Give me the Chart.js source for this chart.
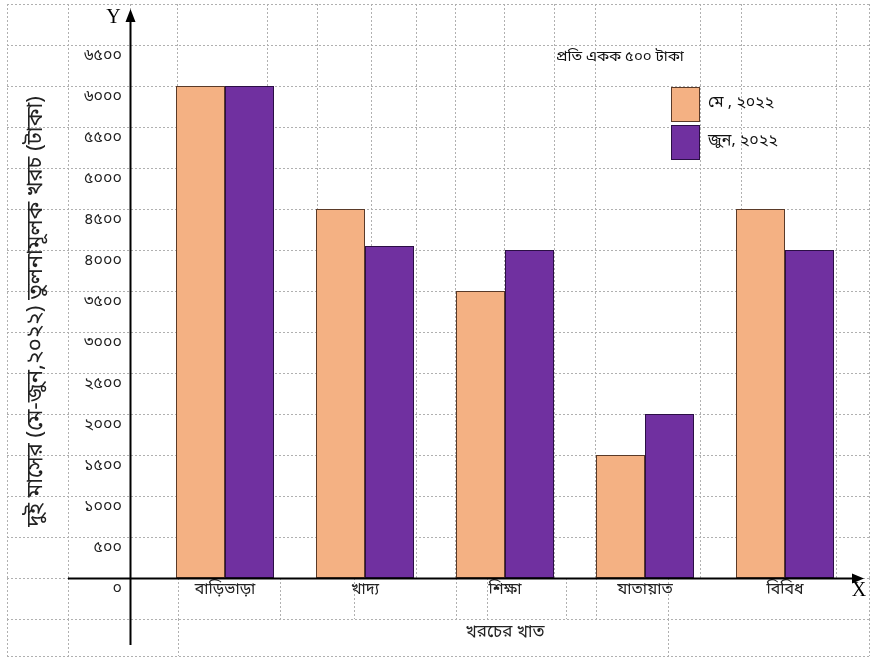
<!DOCTYPE html>
<html>
<head>
<meta charset="utf-8">
<script src="https://cdn.jsdelivr.net/npm/chart.js@4"></script>
<style>
  html, body { margin: 0; padding: 0; background: #fff; }
</style>
</head>
<body>
<canvas id="chart" width="871" height="658"></canvas>
<script>
const categories = ['বাড়িভাড়া', 'খাদ্য', 'শিক্ষা', 'যাতায়াত', 'বিবিধ'];
const seriesLabels = ['মে , ২০২২', 'জুন, ২০২২'];
const mayValues = [6000, 4500, 3500, 1500, 4500];
const juneValues = [6000, 4050, 4000, 2000, 4000];
const yMax = 6500;
const yStep = 500;
const unitNote = 'প্রতি একক ৫০০ টাকা';
const xTitle = 'খরচের খাত';
const yTitle = 'দুই মাসের (মে-জুন,২০২২) তুলনামূলক খরচ (টাকা)';

const FONT = "'Noto Sans Bengali', 'Noto Sans', 'DejaVu Sans', sans-serif";
const bnDigits = '০১২৩৪৫৬৭৮৯';
const toBn = s => String(s).replace(/\d/g, d => bnDigits[d]);

// spreadsheet-like cell edges behind the chart
const colsUpper = [7, 68, 130, 177, 267, 317, 371, 416, 455, 504, 554, 595, 700, 741, 836, 869];
const colsLabelRow = [7, 68, 178, 280, 354, 456, 487, 566, 596, 668, 869];
const colsTitleRow = [7, 68, 178, 668, 869];

const sheetGrid = {
  id: 'sheetGrid',
  beforeDraw(chart) {
    const { ctx, scales: { y } } = chart;
    const top = y.getPixelForValue(yMax + yStep) ;
    const axisY = y.getPixelForValue(0);
    const rowH = axisY - y.getPixelForValue(yStep);
    ctx.save();
    ctx.strokeStyle = '#b0b0b0';
    ctx.lineWidth = 1;
    ctx.setLineDash([2, 2]);
    ctx.beginPath();
    for (let v = -2 * yStep; v <= yMax + yStep; v += yStep) {
      const py = Math.round(Math.min(y.getPixelForValue(v), 656)) + 0.5;
      ctx.moveTo(7, py);
      ctx.lineTo(869, py);
    }
    colsUpper.forEach(x => { ctx.moveTo(x + 0.5, top); ctx.lineTo(x + 0.5, axisY); });
    colsLabelRow.forEach(x => { ctx.moveTo(x + 0.5, axisY); ctx.lineTo(x + 0.5, axisY + rowH); });
    colsTitleRow.forEach(x => { ctx.moveTo(x + 0.5, axisY + rowH); ctx.lineTo(x + 0.5, 656); });
    ctx.stroke();
    ctx.restore();
  },
  afterDraw(chart) {
    const { ctx, chartArea, scales: { y } } = chart;
    const axisY = Math.round(y.getPixelForValue(0)) + 0.5;
    const axisX = Math.round(chartArea.left - 25) + 0.5;
    ctx.save();
    ctx.strokeStyle = '#000';
    ctx.fillStyle = '#000';
    ctx.lineWidth = 2;
    ctx.beginPath();
    ctx.moveTo(68, axisY); ctx.lineTo(856, axisY);
    ctx.moveTo(axisX, 645); ctx.lineTo(axisX, 18);
    ctx.stroke();
    // arrow heads
    ctx.beginPath();
    ctx.moveTo(864, axisY); ctx.lineTo(852, axisY - 5); ctx.lineTo(852, axisY + 5); ctx.closePath();
    ctx.moveTo(axisX, 9); ctx.lineTo(axisX - 5, 22); ctx.lineTo(axisX + 5, 22); ctx.closePath();
    ctx.fill();
    // axis letters
    ctx.font = "20px 'Liberation Serif', 'DejaVu Serif', serif";
    ctx.textAlign = 'center';
    ctx.textBaseline = 'middle';
    ctx.fillText('Y', axisX - 17, 18);
    ctx.fillText('X', 859, 591);
    // unit note
    ctx.font = '15px ' + FONT;
    ctx.textAlign = 'left';
    ctx.fillStyle = '#111';
    ctx.fillText(unitNote, 556, 58);
    // legend
    chart.data.datasets.forEach((ds, i) => {
      const by = 87 + i * 38;
      ctx.fillStyle = ds.backgroundColor;
      ctx.fillRect(671, by, 29, 35);
      ctx.lineWidth = 1;
      ctx.strokeStyle = ds.borderColor;
      ctx.strokeRect(671.5, by + 0.5, 28, 34);
      ctx.fillStyle = '#111';
      ctx.font = '16px ' + FONT;
      ctx.fillText(ds.label, 708, by + 17);
    });
    ctx.restore();
  }
};

new Chart(document.getElementById('chart'), {
  type: 'bar',
  data: {
    labels: categories,
    datasets: [
      {
        label: seriesLabels[0],
        data: mayValues,
        backgroundColor: '#F4B183',
        borderColor: '#5a3a28',
        borderWidth: 1,
        borderSkipped: false,
        barPercentage: 1,
        categoryPercentage: 0.70
      },
      {
        label: seriesLabels[1],
        data: juneValues,
        backgroundColor: '#7030A0',
        borderColor: '#2b0f45',
        borderWidth: 1,
        borderSkipped: false,
        barPercentage: 1,
        categoryPercentage: 0.70
      }
    ]
  },
  options: {
    responsive: false,
    animation: false,
    layout: { padding: { left: 0, top: 45, right: 16, bottom: 0 } },
    plugins: {
      legend: { display: false },
      tooltip: { enabled: false }
    },
    scales: {
      x: {
        grid: { display: false, drawTicks: false },
        border: { display: false },
        ticks: {
          padding: 3,
          color: '#222',
          font: { family: FONT, size: 16 },
          maxRotation: 0
        },
        title: {
          display: true,
          text: xTitle,
          color: '#222',
          font: { family: FONT, size: 17 },
          padding: { top: 0, bottom: 14 }
        },
        afterFit(scale) { scale.height = 80; }
      },
      y: {
        min: 0,
        max: yMax,
        grid: { display: false, drawTicks: false },
        border: { display: false },
        ticks: {
          stepSize: yStep,
          padding: 33,
          labelOffset: 12,
          color: '#222',
          font: { family: FONT, size: 16 },
          callback: v => toBn(v)
        },
        title: {
          display: true,
          text: yTitle,
          color: '#222',
          font: { family: FONT, size: 22 },
          padding: { top: 25, bottom: 0 }
        },
        afterFit(scale) { scale.width = 155; }
      }
    }
  },
  plugins: [sheetGrid]
});
</script>
</body>
</html>
